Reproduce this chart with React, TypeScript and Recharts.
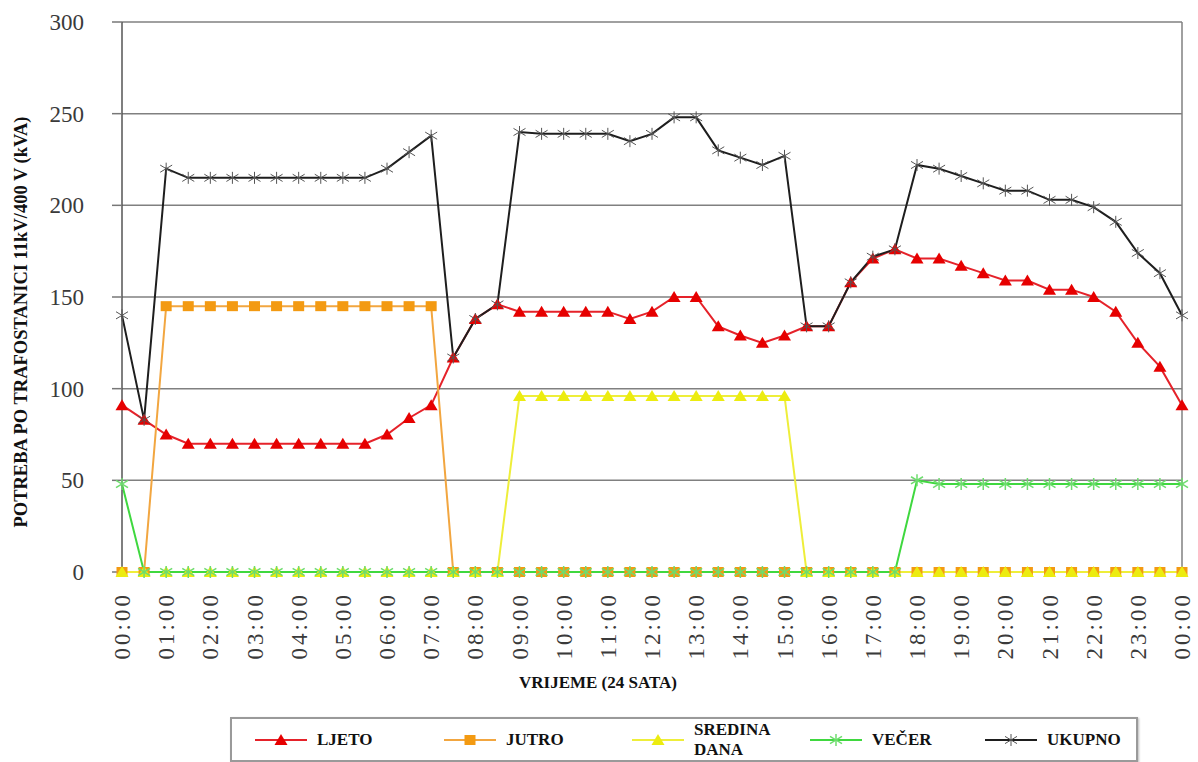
import React from "react"
import { CartesianGrid, Line, LineChart, XAxis, YAxis } from "recharts"

// half-hour readings over one day
const times = [
  "00:00", "00:30", "01:00", "01:30", "02:00", "02:30", "03:00", "03:30", "04:00", "04:30",
  "05:00", "05:30", "06:00", "06:30", "07:00", "07:30", "08:00", "08:30", "09:00", "09:30",
  "10:00", "10:30", "11:00", "11:30", "12:00", "12:30", "13:00", "13:30", "14:00", "14:30",
  "15:00", "15:30", "16:00", "16:30", "17:00", "17:30", "18:00", "18:30", "19:00", "19:30",
  "20:00", "20:30", "21:00", "21:30", "22:00", "22:30", "23:00", "23:30", "00:00",
]

const ljeto = [
  91, 83, 75, 70, 70, 70, 70, 70, 70, 70,
  70, 70, 75, 84, 91, 117, 138, 146, 142, 142,
  142, 142, 142, 138, 142, 150, 150, 134, 129, 125,
  129, 134, 134, 158, 171, 176, 171, 171, 167, 163,
  159, 159, 154, 154, 150, 142, 125, 112, 91,
]

const jutro = [
  0, 0, 145, 145, 145, 145, 145, 145, 145, 145,
  145, 145, 145, 145, 145, 0, 0, 0, 0, 0,
  0, 0, 0, 0, 0, 0, 0, 0, 0, 0,
  0, 0, 0, 0, 0, 0, 0, 0, 0, 0,
  0, 0, 0, 0, 0, 0, 0, 0, 0,
]

const sredinaDana = [
  0, 0, 0, 0, 0, 0, 0, 0, 0, 0,
  0, 0, 0, 0, 0, 0, 0, 0, 96, 96,
  96, 96, 96, 96, 96, 96, 96, 96, 96, 96,
  96, 0, 0, 0, 0, 0, 0, 0, 0, 0,
  0, 0, 0, 0, 0, 0, 0, 0, 0,
]

const vecer = [
  48, 0, 0, 0, 0, 0, 0, 0, 0, 0,
  0, 0, 0, 0, 0, 0, 0, 0, 0, 0,
  0, 0, 0, 0, 0, 0, 0, 0, 0, 0,
  0, 0, 0, 0, 0, 0, 50, 48, 48, 48,
  48, 48, 48, 48, 48, 48, 48, 48, 48,
]

const ukupno = [
  140, 83, 220, 215, 215, 215, 215, 215, 215, 215,
  215, 215, 220, 229, 238, 117, 138, 146, 240, 239,
  239, 239, 239, 235, 239, 248, 248, 230, 226, 222,
  227, 134, 134, 158, 172, 176, 222, 220, 216, 212,
  208, 208, 203, 203, 199, 191, 174, 163, 140,
]

const yTicks = [0, 50, 100, 150, 200, 250, 300]

const data = times.map((t, i) => ({
  time: t,
  ljeto: ljeto[i],
  jutro: jutro[i],
  sredina: sredinaDana[i],
  vecer: vecer[i],
  ukupno: ukupno[i],
}))

const serif = "Times New Roman, Liberation Serif, serif"

type Marker = "triangle" | "square" | "star" | "asterisk"

const series = [
  { key: "ljeto", name: ["LJETO"], line: "#E5222A", fill: "#E60000", marker: "triangle" as Marker },
  { key: "jutro", name: ["JUTRO"], line: "#F2A640", fill: "#F39A12", marker: "square" as Marker },
  { key: "sredina", name: ["SREDINA", "DANA"], line: "#EEEE3A", fill: "#ECEC10", marker: "triangle" as Marker },
  { key: "vecer", name: ["VEČER"], line: "#3FD83F", fill: "#6EDC6E", marker: "star" as Marker },
  { key: "ukupno", name: ["UKUPNO"], line: "#1E1E1E", fill: "#555555", marker: "asterisk" as Marker },
]

// where each legend entry starts (page px)
const legendLeft = [255, 444, 632, 810, 985]

function MarkerShape({ kind, cx, cy, color }: { kind: Marker; cx: number; cy: number; color: string }) {
  if (kind === "triangle") {
    return <polygon points={`${cx},${cy - 6} ${cx + 6.5},${cy + 5} ${cx - 6.5},${cy + 5}`} fill={color} />
  }
  if (kind === "square") {
    return <rect x={cx - 5.5} y={cy - 5} width={11} height={10} fill={color} />
  }
  const r = 6
  return (
    <g stroke={color} strokeWidth={kind === "star" ? 1.5 : 1}>
      <line x1={cx - r} y1={cy - r * 0.6} x2={cx + r} y2={cy + r * 0.6} />
      <line x1={cx - r} y1={cy + r * 0.6} x2={cx + r} y2={cy - r * 0.6} />
      <line x1={cx} y1={cy - r} x2={cx} y2={cy + r} />
    </g>
  )
}

const makeDot = (kind: Marker, color: string) => (props: any) => {
  const { cx, cy, index } = props
  if (cx == null || cy == null) return <g key={`d-${index}`} />
  return (
    <g key={`d-${index}`}>
      <MarkerShape kind={kind} cx={cx} cy={cy} color={color} />
    </g>
  )
}

const TimeTick = (props: any) => {
  const { x, y, payload } = props
  const tx = x + 8
  const ty = y + 14
  return (
    <text
      x={tx}
      y={ty}
      transform={`rotate(-90 ${tx} ${ty})`}
      textAnchor="end"
      fontSize={23}
      letterSpacing={3}
      fontFamily={serif}
      fill="#3a3a3a"
    >
      {payload.value}
    </text>
  )
}

export default function App() {
  return (
    <div style={{ position: "absolute", left: 0, top: 0, width: 1198, height: 762, background: "#fff" }}>
      <LineChart width={1198} height={700} data={data} margin={{ top: 22, right: 15, left: 0, bottom: 28 }}>
        <CartesianGrid vertical={false} stroke="#808080" strokeWidth={1.5} />
        <XAxis
          dataKey="time"
          interval={1}
          height={100}
          tickSize={4}
          tick={<TimeTick />}
          axisLine={false}
          tickLine={{ stroke: "#777" }}
        />
        <YAxis
          domain={[0, 300]}
          ticks={yTicks}
          width={122}
          tickSize={10}
          tickMargin={28}
          axisLine={{ stroke: "#555", strokeWidth: 1.5 }}
          tickLine={{ stroke: "#777", strokeWidth: 1.5 }}
          tick={{ fontSize: 23, fontFamily: serif, fill: "#3a3a3a" }}
        />
        <YAxis
          yAxisId="edge"
          orientation="right"
          domain={[0, 300]}
          width={1}
          tick={false}
          tickLine={false}
          axisLine={{ stroke: "#808080", strokeWidth: 1.5 }}
        />
        {series.map((s) => (
          <Line
            key={s.key}
            dataKey={s.key}
            type="linear"
            stroke={s.line}
            strokeWidth={2}
            dot={makeDot(s.marker, s.fill)}
            activeDot={false}
            isAnimationActive={false}
          />
        ))}
      </LineChart>

      <svg width={1198} height={762} style={{ position: "absolute", left: 0, top: 0, pointerEvents: "none" }}>
        <text
          x={27}
          y={322}
          transform="rotate(-90 27 322)"
          textAnchor="middle"
          fontSize={18.5}
          fontWeight="bold"
          fontFamily={serif}
          fill="#111"
        >
          POTREBA PO TRAFOSTANICI 11kV/400 V (kVA)
        </text>
        <text x={598} y={688} textAnchor="middle" fontSize={17} fontWeight="bold" fontFamily={serif} fill="#111">
          VRIJEME (24 SATA)
        </text>
      </svg>

      <div
        style={{
          position: "absolute",
          left: 230,
          top: 717,
          width: 904,
          height: 41,
          border: "2px solid #9a9a9a",
          boxShadow: "1px 1px 2px #bbb",
        }}
      />
      {series.map((s, i) => (
        <div
          key={s.key}
          style={{ position: "absolute", left: legendLeft[i], top: 717, height: 45, display: "flex", alignItems: "center" }}
        >
          <svg width={52} height={16}>
            <line x1={0} y1={8} x2={52} y2={8} stroke={s.line} strokeWidth={2} />
            <MarkerShape kind={s.marker} cx={26} cy={8} color={s.fill} />
          </svg>
          <div
            style={{
              marginLeft: 10,
              fontFamily: serif,
              fontWeight: "bold",
              fontSize: 17,
              lineHeight: "20px",
              color: "#111",
            }}
          >
            {s.name.map((n) => (
              <div key={n}>{n}</div>
            ))}
          </div>
        </div>
      ))}
    </div>
  )
}
